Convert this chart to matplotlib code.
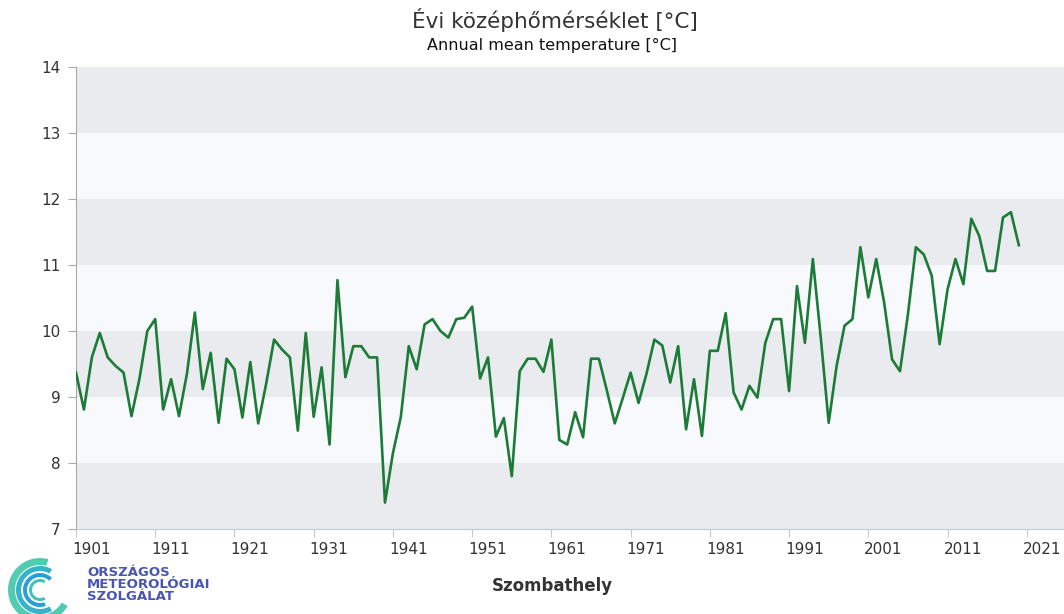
import matplotlib
matplotlib.use("Agg")
import matplotlib.pyplot as plt
import matplotlib.transforms as mtransforms
from matplotlib.patches import Wedge

plt.rcParams['font.family'] = ['DejaVu Sans']

# data
years = list(range(1901, 2021))
temps = [
    9.37, 8.81, 9.60, 9.97, 9.60, 9.47, 9.37, 8.71, 9.27, 10.00,   # 1901-1910
    10.18, 8.81, 9.27, 8.71, 9.35, 10.28, 9.12, 9.67, 8.61, 9.58,  # 1911-1920
    9.42, 8.69, 9.53, 8.60, 9.20, 9.87, 9.72, 9.60, 8.49, 9.97,    # 1921-1930
    8.70, 9.45, 8.28, 10.77, 9.30, 9.77, 9.77, 9.60, 9.60, 7.40,   # 1931-1940
    8.15, 8.70, 9.77, 9.42, 10.10, 10.18, 10.00, 9.90, 10.18, 10.20,  # 1941-1950
    10.37, 9.28, 9.60, 8.40, 8.68, 7.80, 9.39, 9.58, 9.58, 9.38,   # 1951-1960
    9.87, 8.35, 8.28, 8.77, 8.39, 9.58, 9.58, 9.10, 8.60, 8.98,    # 1961-1970
    9.37, 8.91, 9.35, 9.87, 9.78, 9.22, 9.77, 8.51, 9.27, 8.41,    # 1971-1980
    9.70, 9.70, 10.27, 9.07, 8.81, 9.17, 8.99, 9.82, 10.18, 10.18,  # 1981-1990
    9.09, 10.68, 9.82, 11.09, 9.90, 8.61, 9.47, 10.08, 10.18, 11.27,  # 1991-2000
    10.51, 11.09, 10.43, 9.57, 9.39, 10.25, 11.27, 11.16, 10.84, 9.80,  # 2001-2010
    10.63, 11.09, 10.71, 11.70, 11.44, 10.91, 10.91, 11.72, 11.80, 11.30,  # 2011-2020
]
xticks = list(range(1901, 2022, 10))
yticks = list(range(7, 15))

title_hu = "Évi középhőmérséklet [°C]"
title_en = "Annual mean temperature [°C]"
station = "Szombathely"
logo_lines = ["ORSZÁGOS", "METEOROLÓGIAI", "SZOLGÁLAT"]

W, H = 1064, 614
fig = plt.figure(figsize=(W / 100, H / 100), dpi=100)
fig.patch.set_facecolor("white")

ax = fig.add_axes([76 / W, 85 / H, 988 / W, 462 / H])
ax.set_xlim(1901, 2025.7)
ax.set_ylim(7, 14)

# alternating bands
for i, lo in enumerate(range(7, 14)):
    ax.axhspan(lo, lo + 1, color="#e9ebee" if i % 2 == 0 else "#f7f9fc", lw=0, zorder=0)

ax.plot(years, temps, color="#1b7b37", lw=1.9, zorder=3)

for s in ["top", "right"]:
    ax.spines[s].set_visible(False)
ax.spines["left"].set_color("#a8a8a8")
ax.spines["bottom"].set_color("#c4c8cc")

ax.set_yticks(yticks)
ax.set_xticks(xticks)
ax.tick_params(axis="y", length=6, color="#a8a8a8", labelsize=11, labelcolor="#333333", pad=5)
ax.tick_params(axis="x", length=6, color="#c4c8cc", labelsize=11, labelcolor="#333333", pad=3)
offset = mtransforms.ScaledTranslation(-4 / 100, 0, fig.dpi_scale_trans)
for lbl in ax.get_xticklabels():
    lbl.set_ha("left")
    lbl.set_transform(lbl.get_transform() + offset)

fig.text(555 / W, 1 - 20 / H, title_hu, ha="center", va="center", fontsize=15.5, color="#333333")
fig.text(552 / W, 1 - 45 / H, title_en, ha="center", va="center", fontsize=11.5, color="#111111")
fig.text(552 / W, 1 - 586 / H, station, ha="center", va="center", fontsize=12,
         fontweight="bold", color="#333333")

# logo
lax = fig.add_axes([0, 0, 80 / W, 58 / H])
lax.set_xlim(0, 80)
lax.set_ylim(0, 58)
lax.axis("off")
cx, cy = 40, 24
for r, t1, t2, w, c in [(32, 75, 330, 7, "#52cbb0"), (24, 60, 300, 5, "#35b3c9"),
                        (17, 45, 290, 4, "#2a9fd3"), (11, 60, 300, 3, "#3fc0b8")]:
    lax.add_patch(Wedge((cx, cy), r, t1, t2, width=w, color=c, lw=0))

for i, line in enumerate(logo_lines):
    fig.text(87 / W, 1 - (572 + i * 12.5) / H, line, ha="left", va="center", fontsize=9.5,
             fontweight="bold", color="#4a55b0")

fig.savefig("out.png", dpi=100)
